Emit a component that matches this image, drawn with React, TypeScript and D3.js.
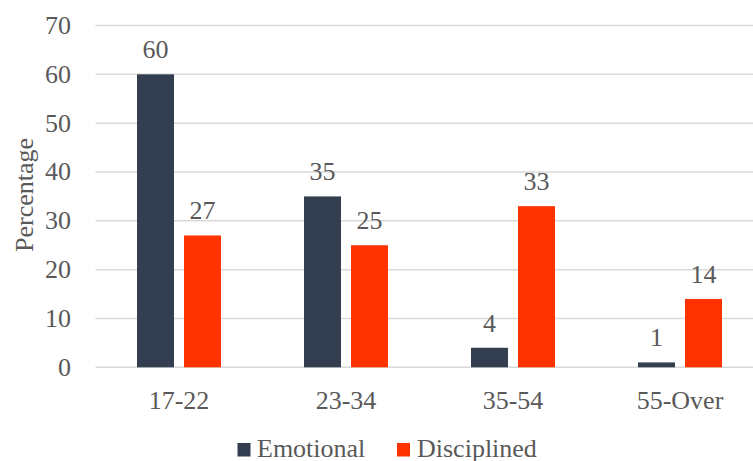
import React from "react";
import * as d3 from "d3";

const categories = ["17-22", "23-34", "35-54", "55-Over"];
const seriesNames = ["Emotional", "Disciplined"];
const emotional = [60, 35, 4, 1];
const disciplined = [27, 25, 33, 14];
const yTicks = [0, 10, 20, 30, 40, 50, 60, 70];
const colors = ["#333F50", "#FF3300"];

const W = 753;
const H = 461;
const FONT = "Liberation Serif, Times New Roman, serif";
const TEXT = "#595959";
const textStyle = { fontFamily: FONT, fontSize: "26px", fill: TEXT };

export default function App() {
  const y = d3.scaleLinear().domain([0, 70]).range([367.3, 25.5]);
  const x0 = d3.scaleBand<string>().domain(categories).range([95.5, 763.5]).padding(0);
  const groupW = 84;
  const x1 = d3
    .scaleBand<string>()
    .domain(seriesNames)
    .range([0, groupW])
    .paddingInner(10 / 47)
    .paddingOuter(0);
  const series = [emotional, disciplined];
  const offset = (x0.bandwidth() - groupW) / 2;

  const legendPos = [
    { sx: 237.5, tx: 257 },
    { sx: 397, tx: 417 },
  ];

  return (
    <svg
      width={W}
      height={H}
      style={{ position: "absolute", left: 0, top: 0, display: "block", background: "#fff" }}
    >
      {/* gridlines */}
      {yTicks.map((t) => (
        <line
          key={t}
          x1={95.5}
          x2={W}
          y1={y(t)}
          y2={y(t)}
          stroke="#D9D9D9"
          strokeWidth={1.5}
        />
      ))}
      {/* y tick labels */}
      {yTicks.map((t) => (
        <text
          key={"yt" + t}
          x={71}
          y={y(t)}
          textAnchor="end"
          dominantBaseline="central"
          style={textStyle}
        >
          {t}
        </text>
      ))}
      {/* y axis title */}
      <text transform={`translate(33,195) rotate(-90)`} textAnchor="middle" style={textStyle}>
        Percentage
      </text>
      {/* bars and value labels */}
      {categories.map((c, i) => (
        <g key={c} transform={`translate(${x0(c)! + offset},0)`}>
          {seriesNames.map((s, k) => {
            const v = series[k][i];
            const bx = x1(s)!;
            return (
              <g key={s}>
                <rect
                  x={bx}
                  y={y(v)}
                  width={x1.bandwidth()}
                  height={y(0) - y(v)}
                  fill={colors[k]}
                />
                <text
                  x={bx + x1.bandwidth() / 2}
                  y={y(v) - 16}
                  textAnchor="middle"
                  style={textStyle}
                >
                  {v}
                </text>
              </g>
            );
          })}
        </g>
      ))}
      {/* x category labels */}
      {categories.map((c) => (
        <text
          key={"xl" + c}
          x={x0(c)! + x0.bandwidth() / 2}
          y={409}
          textAnchor="middle"
          style={textStyle}
        >
          {c}
        </text>
      ))}
      {/* legend */}
      {seriesNames.map((s, k) => (
        <g key={"lg" + s}>
          <rect x={legendPos[k].sx} y={443} width={13} height={13.5} fill={colors[k]} />
          <text x={legendPos[k].tx} y={456.5} style={textStyle}>
            {s}
          </text>
        </g>
      ))}
    </svg>
  );
}
